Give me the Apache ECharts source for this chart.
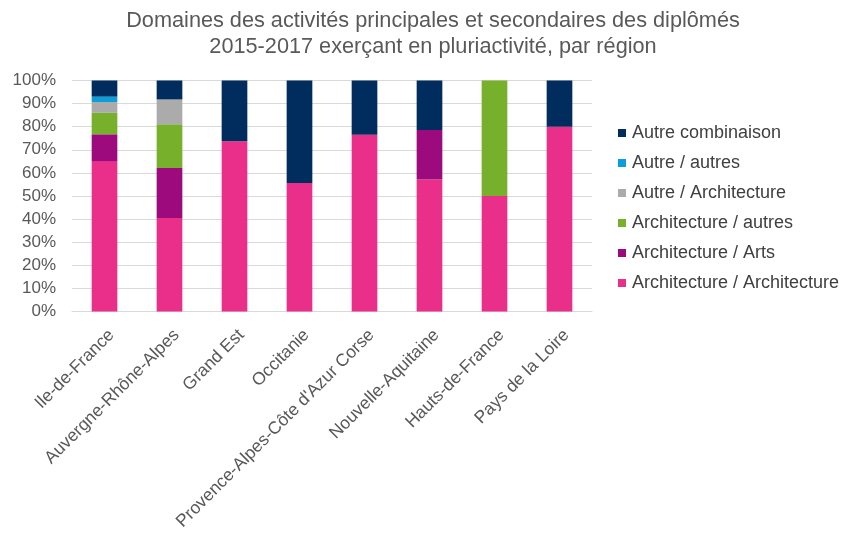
<!DOCTYPE html>
<html><head><meta charset="utf-8">
<script src="https://cdn.jsdelivr.net/npm/echarts@6/dist/echarts.min.js"></script>
<style>html,body{margin:0;padding:0;background:#fff}#c{width:842px;height:533px}</style>
</head><body><div id="c"></div>
<script>
const categories = ["Ile-de-France","Auvergne-Rhône-Alpes","Grand Est","Occitanie","Provence-Alpes-Côte d'Azur Corse","Nouvelle-Aquitaine","Hauts-de-France","Pays de la Loire"];
const archiArchi   = [65.1, 40.5, 73.7, 55.6, 76.5, 57.1, 50, 80];
const archiArts    = [11.6, 21.6, 0, 0, 0, 21.5, 0, 0];
const archiAutres  = [9.3, 18.9, 0, 0, 0, 0, 50, 0];
const autreArchi   = [4.7, 10.8, 0, 0, 0, 0, 0, 0];
const autreAutres  = [2.3, 0, 0, 0, 0, 0, 0, 0];
const autreComb    = [7.0, 8.2, 26.3, 44.4, 23.5, 21.4, 0, 20];

const names = ["Architecture / Architecture","Architecture / Arts","Architecture / autres","Autre / Architecture","Autre / autres","Autre combinaison"];
const colors = ["#EA2F8B","#9C0A7D","#77B02A","#ABABAB","#0A9FDB","#002D5E"];
const data = [archiArchi, archiArts, archiAutres, autreArchi, autreAutres, autreComb];

const chart = echarts.init(document.getElementById('c'));
chart.setOption({
  animation:false,
  textStyle:{fontFamily:'Liberation Sans, Arial, sans-serif'},
  title:{text:'Domaines des activités principales et secondaires des diplômés\n2015-2017 exerçant en pluriactivité, par région',
    left:428, textAlign:'center', top:3,
    textStyle:{fontSize:21.7, fontWeight:'normal', color:'#595959', lineHeight:26}},
  grid:{left:72, right:250, top:80.5, bottom:219.5},
  legend:{orient:'vertical', left:613, top:119, itemWidth:8, itemHeight:8, itemGap:12,
    icon:'rect', data:names.slice().reverse(),
    textStyle:{fontSize:18, color:'#404040', padding:[0,0,0,1]}},
  xAxis:{type:'category', data:categories,
    axisLine:{lineStyle:{color:'#D9D9D9'}}, axisTick:{show:false},
    axisLabel:{rotate:45, fontSize:17.5, color:'#595959', interval:0, margin:28, padding:[0,-10,0,0]}},
  yAxis:{type:'value', min:0, max:100, interval:10,
    axisLabel:{formatter:'{value}%', fontSize:17, color:'#595959', margin:16},
    splitLine:{lineStyle:{color:'#D9D9D9'}}, axisLine:{show:false}},
  series:names.map((n,i)=>({name:n, type:'bar', stack:'s', barWidth:'39.5%',
    itemStyle:{color:colors[i]}, data:data[i]}))
});
</script></body></html>
